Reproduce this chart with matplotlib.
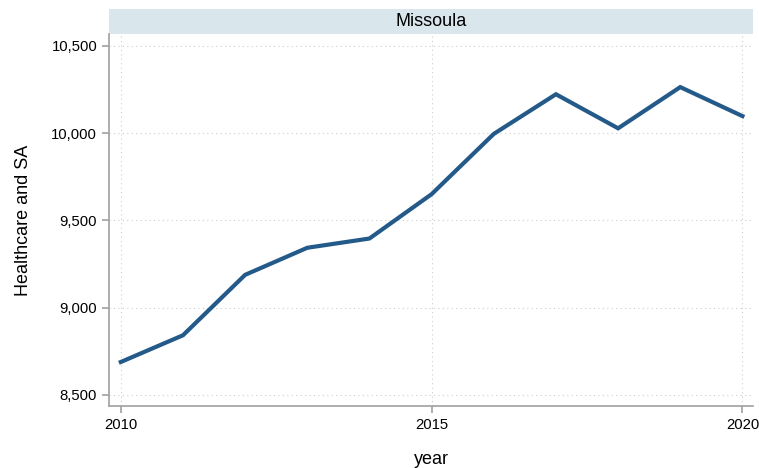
import matplotlib.pyplot as plt
from matplotlib.patches import Rectangle
from matplotlib.ticker import FuncFormatter

plt.rcParams['font.family'] = ['Liberation Sans', 'DejaVu Sans']

years = [2010, 2011, 2012, 2013, 2014, 2015, 2016, 2017, 2018, 2019, 2020]
values = [8689, 8842, 9188, 9343, 9396, 9650, 9995, 10222, 10027, 10263, 10097]
panel = "Missoula"

fig = plt.figure(figsize=(7.59, 4.68), dpi=100)
# plot area in pixels: x 109..753, y 34..406
ax = fig.add_axes([109 / 759, 1 - 406 / 468, 644 / 759, 372 / 468])

ax.plot(years, values, color='#245a8a', lw=3, solid_joinstyle='miter', zorder=3)

ax.set_xlim(2009.81, 2020.17)
ax.set_ylim(8437, 10567)
ax.set_xticks([2010, 2015, 2020])
ax.set_yticks([8500, 9000, 9500, 10000, 10500])
ax.yaxis.set_major_formatter(FuncFormatter(lambda v, p: f"{int(v):,}"))

ax.grid(True, color='#cccccc', linestyle=(0, (1, 3)), lw=0.8)
for s in ['top', 'right']:
    ax.spines[s].set_visible(False)
for s in ['left', 'bottom']:
    ax.spines[s].set_color('#a0a0a0')
    ax.spines[s].set_linewidth(1.2)
ax.tick_params(colors='#a0a0a0', labelcolor='black', labelsize=10.7, length=5, width=1.2)

ax.set_xlabel('year', fontsize=13, labelpad=14)
ax.set_ylabel('Healthcare and SA', fontsize=13, labelpad=14)

# strip on top
strip = Rectangle((0, 1), 1, 25 / 372, transform=ax.transAxes, facecolor='#d9e6eb',
                  edgecolor='none', clip_on=False)
ax.add_patch(strip)
ax.text(0.5, 1 + 12.5 / 372, panel, transform=ax.transAxes, ha='center', va='center',
        fontsize=13)

fig.savefig('out.png', dpi=100)
